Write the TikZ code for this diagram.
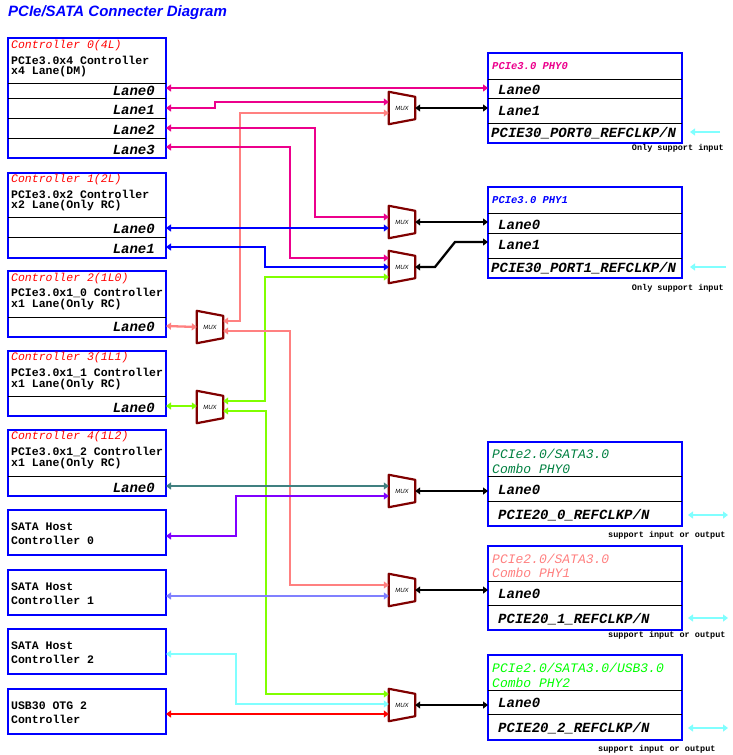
\documentclass[tikz,border=0pt]{standalone}
\usepackage{fontspec}
\setmainfont{Liberation Sans}
\setmonofont{Liberation Mono}
\usetikzlibrary{arrows.meta}
\definecolor{salmon}{HTML}{FF8080}
\definecolor{lime}{HTML}{80FF00}
\definecolor{teal2}{HTML}{408080}
\definecolor{violet2}{HTML}{8000FF}
\definecolor{sky}{HTML}{8080FF}
\definecolor{aqua}{HTML}{80FFFF}
\definecolor{muxred}{HTML}{800000}
\definecolor{combogreen}{HTML}{008040}
\tikzset{
  box/.style={draw=blue,line width=2.6pt},
  div/.style={line width=1pt},
  head/.style={anchor=west,inner sep=0pt,font=\ttfamily\fontsize{11.5}{12}\selectfont\bfseries},
  lane/.style={inner sep=0pt,font=\ttfamily\fontsize{14}{14}\selectfont\bfseries\itshape},
  note/.style={inner sep=0pt,font=\ttfamily\fontsize{8.5}{9}\selectfont\bfseries},
  wire/.style={line width=2.3pt,{Triangle[length=5pt,width=7pt]}-{Triangle[length=5pt,width=7pt]}},
  towire/.style={line width=2.3pt,-{Triangle[length=5pt,width=7pt]}},
  muxline/.style={draw=muxred,line width=2.2pt,line join=round},
}
\newcommand{\mux}[3]{% name, x, y
  \node[inner sep=0pt,minimum width=26pt,minimum height=32pt] (#1) at (#2,#3)
    {\fontsize{6}{6}\selectfont\itshape MUX};
  \draw[muxline] (#1.north west) -- ([yshift=-5pt]#1.north east)
    -- ([yshift=5pt]#1.south east) -- (#1.south west) -- cycle;
}
\begin{document}
\begin{tikzpicture}[x=1pt,y=-1pt]
\useasboundingbox (0,0) rectangle (732,755);
\node[anchor=west,inner sep=0pt,text=blue,font=\fontsize{15}{15}\selectfont\bfseries\itshape] (title) at (8,13) {PCIe/SATA Connecter Diagram};

% controllers
\draw[box] (8,38) rectangle (166,158);
\foreach \y in {83,98,118,138} \draw[div] (8,\y) -- (166,\y);
\node[head,text=red,font=\ttfamily\fontsize{11.5}{12}\selectfont\itshape] (c0t) at (11,46) {Controller 0(4L)};
\node[head] (c0a) at (11,60) {PCIe3.0x4 Controller};
\node[head] (c0b) at (11,72) {x4 Lane(DM)};
\node[lane,anchor=east] (c0l0) at (155,91) {Lane0};
\node[lane,anchor=east] (c0l1) at (155,110) {Lane1};
\node[lane,anchor=east] (c0l2) at (155,130) {Lane2};
\node[lane,anchor=east] (c0l3) at (155,150) {Lane3};

\draw[box] (8,173) rectangle (166,258);
\foreach \y in {217,237} \draw[div] (8,\y) -- (166,\y);
\node[head,text=red,font=\ttfamily\fontsize{11.5}{12}\selectfont\itshape] (c1t) at (11,180) {Controller 1(2L)};
\node[head] (c1a) at (11,194) {PCIe3.0x2 Controller};
\node[head] (c1b) at (11,206) {x2 Lane(Only RC)};
\node[lane,anchor=east] (c1l0) at (155,229) {Lane0};
\node[lane,anchor=east] (c1l1) at (155,249) {Lane1};

\draw[box] (8,271) rectangle (166,337);
\draw[div] (8,317) -- (166,317);
\node[head,text=red,font=\ttfamily\fontsize{11.5}{12}\selectfont\itshape] (c2t) at (11,279) {Controller 2(1L0)};
\node[head] (c2a) at (11,293) {PCIe3.0x1\_0 Controller};
\node[head] (c2b) at (11,305) {x1 Lane(Only RC)};
\node[lane,anchor=east] (c2l0) at (155,327) {Lane0};

\draw[box] (8,351) rectangle (166,416);
\draw[div] (8,396) -- (166,396);
\node[head,text=red,font=\ttfamily\fontsize{11.5}{12}\selectfont\itshape] (c3t) at (11,358) {Controller 3(1L1)};
\node[head] (c3a) at (11,373) {PCIe3.0x1\_1 Controller};
\node[head] (c3b) at (11,385) {x1 Lane(Only RC)};
\node[lane,anchor=east] (c3l0) at (155,408) {Lane0};

\draw[box] (8,430) rectangle (166,496);
\draw[div] (8,476) -- (166,476);
\node[head,text=red,font=\ttfamily\fontsize{11.5}{12}\selectfont\itshape] (c4t) at (11,437) {Controller 4(1L2)};
\node[head] (c4a) at (11,452) {PCIe3.0x1\_2 Controller};
\node[head] (c4b) at (11,464) {x1 Lane(Only RC)};
\node[lane,anchor=east] (c4l0) at (155,488) {Lane0};

\draw[box] (8,510) rectangle (166,555);
\node[head] (s0a) at (11,527) {SATA Host};
\node[head] (s0b) at (11,540) {Controller 0};
\draw[box] (8,570) rectangle (166,615);
\node[head] (s1a) at (11,587) {SATA Host};
\node[head] (s1b) at (11,600) {Controller 1};
\draw[box] (8,629) rectangle (166,674);
\node[head] (s2a) at (11,646) {SATA Host};
\node[head] (s2b) at (11,659) {Controller 2};
\draw[box] (8,689) rectangle (166,734);
\node[head] (u0a) at (11,706) {USB30 OTG 2};
\node[head] (u0b) at (11,719) {Controller};

% ports of the controllers
\coordinate (p0l0) at (166,88);  \coordinate (p0l1) at (166,108);
\coordinate (p0l2) at (166,128); \coordinate (p0l3) at (166,147);
\coordinate (p1l0) at (166,228); \coordinate (p1l1) at (166,247);
\coordinate (p2l0) at (166,326); \coordinate (p3l0) at (166,406);
\coordinate (p4l0) at (166,486); \coordinate (ps0) at (166,536);
\coordinate (ps1) at (166,596);  \coordinate (ps2) at (166,654);
\coordinate (pu0) at (166,714);

% phys
\draw[box] (488,53) rectangle (682,143);
\foreach \y in {79,98,123} \draw[div] (488,\y) -- (682,\y);
\node[head,text=magenta,font=\ttfamily\fontsize{10.5}{11}\selectfont\bfseries\itshape] (h0t) at (492,66) {PCIe3.0 PHY0};
\node[lane,anchor=west] (h0l0) at (498,90) {Lane0};
\node[lane,anchor=west] (h0l1) at (498,111) {Lane1};
\node[lane,anchor=west] (h0c) at (491,133) {PCIE30\_PORT0\_REFCLKP/N};
\node[note,anchor=east] (h0n) at (724,148) {Only support input};

\draw[box] (488,187) rectangle (682,278);
\foreach \y in {213,233,258} \draw[div] (488,\y) -- (682,\y);
\node[head,text=blue,font=\ttfamily\fontsize{10.5}{11}\selectfont\bfseries\itshape] (h1t) at (492,200) {PCIe3.0 PHY1};
\node[lane,anchor=west] (h1l0) at (498,225) {Lane0};
\node[lane,anchor=west] (h1l1) at (498,245) {Lane1};
\node[lane,anchor=west] (h1c) at (491,268) {PCIE30\_PORT1\_REFCLKP/N};
\node[note,anchor=east] (h1n) at (724,288) {Only support input};

\draw[box] (488,442) rectangle (682,526);
\foreach \y in {476,501} \draw[div] (488,\y) -- (682,\y);
\node[head,text=combogreen,font=\ttfamily\fontsize{13}{13}\selectfont\itshape] (k0t) at (492,454) {PCIe2.0/SATA3.0};
\node[head,text=combogreen,font=\ttfamily\fontsize{13}{13}\selectfont\itshape] (k0u) at (492,469) {Combo PHY0};
\node[lane,anchor=west] (k0l0) at (498,490) {Lane0};
\node[lane,anchor=west] (k0c) at (498,515) {PCIE20\_0\_REFCLKP/N};
\node[note,anchor=west] (k0n) at (608,535) {support input or output};

\draw[box] (488,546) rectangle (682,630);
\foreach \y in {581,605} \draw[div] (488,\y) -- (682,\y);
\node[head,text=salmon,font=\ttfamily\fontsize{13}{13}\selectfont\itshape] (k1t) at (492,559) {PCIe2.0/SATA3.0};
\node[head,text=salmon,font=\ttfamily\fontsize{13}{13}\selectfont\itshape] (k1u) at (492,573) {Combo PHY1};
\node[lane,anchor=west] (k1l0) at (498,594) {Lane0};
\node[lane,anchor=west] (k1c) at (498,619) {PCIE20\_1\_REFCLKP/N};
\node[note,anchor=west] (k1n) at (608,635) {support input or output};

\draw[box] (488,655) rectangle (682,740);
\foreach \y in {690,714} \draw[div] (488,\y) -- (682,\y);
\node[head,text=green,font=\ttfamily\fontsize{13}{13}\selectfont\itshape] (k2t) at (492,668) {PCIe2.0/SATA3.0/USB3.0};
\node[head,text=green,font=\ttfamily\fontsize{13}{13}\selectfont\itshape] (k2u) at (492,683) {Combo PHY2};
\node[lane,anchor=west] (k2l0) at (498,703) {Lane0};
\node[lane,anchor=west] (k2c) at (498,728) {PCIE20\_2\_REFCLKP/N};
\node[note,anchor=west] (k2n) at (598,749) {support input or output};

% clock inputs
\coordinate (q0) at (720,132); \coordinate (q1) at (726,267);
\coordinate (r0a) at (688,515); \coordinate (r0b) at (728,515);
\coordinate (r1a) at (688,618); \coordinate (r1b) at (728,618);
\coordinate (r2a) at (688,728); \coordinate (r2b) at (728,728);
\draw[towire,aqua] (q0) -- (690,132);
\draw[towire,aqua] (q1) -- (690,267);
\draw[wire,aqua] (r0a) -- (r0b);
\draw[wire,aqua] (r1a) -- (r1b);
\draw[wire,aqua] (r2a) -- (r2b);

% muxes
\mux{ma}{402}{108}
\mux{mb}{402}{222}
\mux{mc}{402}{267}
\mux{md}{210}{327}
\mux{me}{210}{407}
\mux{mf}{402}{491}
\mux{mg}{402}{590}
\mux{mh}{402}{705}

% wires to the muxes
\draw[wire,magenta] (p0l0) -- (488,88);
\draw[wire,magenta] (p0l1) -- (215,108) -- (215,102) -- ([yshift=6pt]ma.west);
\draw[wire,salmon] ([yshift=6pt]md.east) -- (240,321) -- (240,113) -- ([yshift=-5pt]ma.west);
\draw[wire,magenta] (p0l2) -- (315,128) -- (315,217) -- ([yshift=5pt]mb.west);
\draw[wire,magenta] (p0l3) -- (290,147) -- (290,258) -- ([yshift=9pt]mc.west);
\draw[wire,blue] (p1l0) -- ([yshift=-6pt]mb.west);
\draw[wire,blue] (p1l1) -- (265,247) -- (265,267) -- (mc.west);
\draw[wire,lime] ([yshift=6pt]me.east) -- (265,401) -- (265,277) -- ([yshift=-10pt]mc.west);
\draw[wire,lime] ([yshift=-4pt]me.east) -- (266,411) -- (266,694) -- ([yshift=11pt]mh.west);
\draw[wire,salmon] ([yshift=-4pt]md.east) -- (290,331) -- (290,585) -- ([yshift=5pt]mg.west);
\draw[wire,salmon] (p2l0) -- (md.west);
\draw[wire,lime] (p3l0) -- ([yshift=1pt]me.west);
\draw[wire,teal2] (p4l0) -- ([yshift=5pt]mf.west);
\draw[wire,violet2] ([yshift=-5pt]mf.west) -- (236,496) -- (236,536) -- (ps0);
\draw[wire,sky] (ps1) -- ([yshift=-6pt]mg.west);
\draw[wire,aqua] (ps2) -- (236,654) -- (236,704) -- ([yshift=1pt]mh.west);
\draw[wire,red] (pu0) -- ([yshift=-9pt]mh.west);

% wires to the phys
\draw[wire,black] (ma.east) -- (488,108);
\draw[wire,black] (mb.east) -- (488,222);
\draw[wire,black] (mc.east) -- (435,267) -- (455,242) -- (488,242);
\draw[wire,black] (mf.east) -- (488,491);
\draw[wire,black] (mg.east) -- (488,590);
\draw[wire,black] (mh.east) -- (488,705);
\end{tikzpicture}
\end{document}
